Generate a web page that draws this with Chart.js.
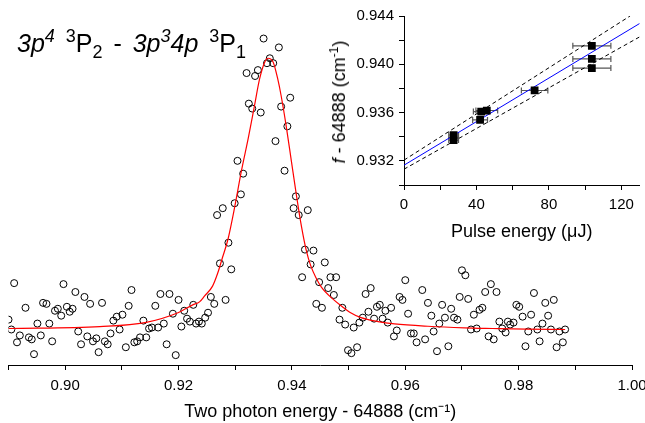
<!DOCTYPE html>
<html><head><meta charset="utf-8">
<script src="https://cdn.jsdelivr.net/npm/chart.js@4/dist/chart.umd.min.js"></script>
<style>
html,body{margin:0;padding:0;background:#fff;}
#wrap{position:relative;width:645px;height:423px;overflow:hidden;font-family:'Liberation Sans',Arial,sans-serif;color:#000;}
#main{position:absolute;left:0;top:0;}
#inset{position:absolute;left:330px;top:0;}
#title{position:absolute;left:17px;top:31px;font-size:25px;line-height:25px;white-space:nowrap;word-spacing:4px;}
.sp{font-size:18px;position:relative;top:-10px;}
.sb{font-size:18px;position:relative;top:6px;}
#ytitle{position:absolute;left:340px;top:102px;transform:translate(-50%,-50%) rotate(-90deg);font-size:18px;line-height:18px;white-space:nowrap;}
.sp2{font-size:12px;position:relative;top:-7px;}
</style></head>
<body><div id="wrap">
<canvas id="main" width="645" height="423"></canvas>
<canvas id="inset" width="315" height="250"></canvas>
<div id="title"><i>3p<span class="sp">4</span></i> <span class="sp">3</span>P<span class="sb">2</span> - <i>3p<span class="sp">3</span>4p</i> <span class="sp">3</span>P<span class="sb">1</span></div>
<div id="ytitle"><i>f</i> - 64888 (cm<span class="sp2">-1</span>)</div>
</div>
<script>
// ---- Main scan: two-photon energy - 64888 (cm^-1) vs signal (arb. units)
const scanEnergy = [0.8900,0.8905,0.8910,0.8915,0.8920,0.8930,0.8936,0.8941,0.8945,0.8951,0.8957,0.8961,0.8967,0.8972,0.8977,0.8982,0.8987,0.8993,0.8997,0.9003,0.9008,0.9013,0.9018,0.9023,0.9028,0.9034,0.9039,0.9044,0.9049,0.9055,0.9059,0.9065,0.9070,0.9075,0.9080,0.9085,0.9091,0.9096,0.9101,0.9107,0.9112,0.9117,0.9122,0.9127,0.9132,0.9138,0.9143,0.9148,0.9153,0.9159,0.9164,0.9168,0.9174,0.9179,0.9184,0.9190,0.9195,0.9200,0.9205,0.9210,0.9215,0.9220,0.9226,0.9231,0.9236,0.9241,0.9247,0.9252,0.9257,0.9263,0.9268,0.9273,0.9278,0.9283,0.9288,0.9293,0.9299,0.9304,0.9310,0.9314,0.9320,0.9324,0.9330,0.9335,0.9340,0.9345,0.9350,0.9356,0.9361,0.9367,0.9371,0.9377,0.9381,0.9387,0.9392,0.9397,0.9403,0.9407,0.9412,0.9418,0.9423,0.9428,0.9433,0.9438,0.9443,0.9448,0.9453,0.9458,0.9464,0.9468,0.9474,0.9478,0.9484,0.9489,0.9494,0.9499,0.9505,0.9509,0.9515,0.9519,0.9525,0.9530,0.9535,0.9539,0.9545,0.9550,0.9555,0.9560,0.9565,0.9569,0.9575,0.9580,0.9585,0.9590,0.9595,0.9600,0.9605,0.9610,0.9615,0.9620,0.9630,0.9635,0.9640,0.9646,0.9650,0.9656,0.9660,0.9665,0.9670,0.9676,0.9681,0.9686,0.9692,0.9696,0.9700,0.9706,0.9711,0.9716,0.9721,0.9726,0.9731,0.9736,0.9741,0.9747,0.9751,0.9756,0.9761,0.9766,0.9771,0.9777,0.9781,0.9785,0.9791,0.9796,0.9801,0.9807,0.9812,0.9817,0.9822,0.9827,0.9833,0.9837,0.9842,0.9847,0.9852,0.9857,0.9862,0.9867,0.9872,0.9878,0.9882];
const scanSignal = [0.46,0.36,0.83,0.23,0.30,0.58,0.28,0.26,0.11,0.42,0.30,0.63,0.62,0.42,0.24,0.55,0.57,0.50,0.82,0.59,0.54,0.57,0.74,0.34,0.21,0.69,0.29,0.62,0.24,0.27,0.13,0.63,0.24,0.21,0.32,0.45,0.49,0.36,0.51,0.18,0.60,0.76,0.23,0.24,0.28,0.45,0.28,0.37,0.38,0.60,0.38,0.72,0.42,0.21,0.72,0.52,0.10,0.66,0.39,0.55,0.47,0.44,0.61,0.42,0.44,0.42,0.48,0.53,0.69,0.62,1.52,1.03,1.59,0.66,1.24,0.97,1.64,2.07,1.73,1.94,2.96,2.65,2.60,2.93,2.99,2.56,3.31,3.06,3.11,3.06,2.27,3.22,2.62,1.97,2.42,2.71,1.59,1.71,1.52,0.89,1.17,1.57,1.02,1.16,0.62,0.84,0.58,1.04,0.78,0.89,0.71,0.89,0.46,0.58,0.41,0.15,0.12,0.38,0.18,0.43,0.48,0.72,0.54,0.78,0.47,0.59,0.61,0.47,0.55,0.43,0.58,0.29,0.35,0.69,0.66,0.86,0.52,0.32,0.32,0.23,0.76,0.26,0.63,0.50,0.34,0.14,0.42,0.61,0.48,0.19,0.57,0.48,0.46,0.69,0.96,0.91,0.67,0.36,0.51,0.37,0.56,0.58,0.74,0.29,0.82,0.26,0.74,0.44,0.37,0.33,0.44,0.41,0.43,0.61,0.59,0.49,0.19,0.34,0.51,0.73,0.36,0.24,0.42,0.63,0.50,0.36,0.66,0.18,0.34,0.23,0.36];
// fitted profile (red)
const fitEnergy = [0.8900,0.9061,0.9141,0.9199,0.9225,0.9237,0.9246,0.9260,0.9269,0.9277,0.9287,0.9299,0.9311,0.9323,0.9334,0.9343,0.9352,0.9358,0.9367,0.9375,0.9381,0.9390,0.9399,0.9408,0.9417,0.9425,0.9433,0.9442,0.9452,0.9472,0.9489,0.9502,0.9522,0.9552,0.9581,0.9640,0.9704,0.9754,0.9813,0.9882];
const fitSignal = [0.37,0.39,0.43,0.53,0.61,0.64,0.70,0.80,0.93,1.08,1.27,1.60,1.97,2.30,2.63,2.90,3.07,3.11,3.07,2.90,2.73,2.42,2.07,1.72,1.40,1.17,1.01,0.89,0.79,0.67,0.59,0.535,0.48,0.44,0.417,0.393,0.377,0.37,0.363,0.36];
const mainXTicks = [0.89,0.90,0.91,0.92,0.93,0.94,0.95,0.96,0.97,0.98,0.99,1.00];
const mainXLabels = [0.90,0.92,0.94,0.96,0.98,1.00];

// ---- Inset: line centre vs pulse energy
const pulseEnergy = [103.7,103.7,103.7,72.1,42.6,45.7,42.0,27.4,27.4];
const pulseErr    = [10.5,10.5,10.5,7.3,4.3,6.0,4.1,2.7,2.7];
const lineCentre  = [0.94153,0.94044,0.93969,0.93783,0.93608,0.93617,0.93539,0.93414,0.93372];
const fitLineX = [0,130.2];
const fitLineY = [0.93164,0.94339];
const upperX = [0,124.8];
const upperY = [0.93206,0.94400];
const lowerX = [0,130.2];
const lowerY = [0.93131,0.94228];
const insetXTicks = [0,20,40,60,80,100,120];
const insetXLabels = [0,40,80,120];
const insetYTicks = [0.930,0.932,0.934,0.936,0.938,0.940,0.942,0.944];
const insetYLabels = [0.932,0.936,0.940,0.944];

Chart.defaults.font.family = "'Liberation Sans', Arial, sans-serif";
Chart.defaults.color = '#000';

const has = (arr, v) => arr.some(a => Math.abs(a - v) < 1e-9);
const zip = (xs, ys) => xs.map((x, i) => ({x, y: ys[i]}));

new Chart(document.getElementById('main'), {
  type: 'scatter',
  data: { datasets: [
    { data: zip(fitEnergy, fitSignal), showLine: true, borderColor: '#ff0000', borderWidth: 1.2,
      pointRadius: 0, cubicInterpolationMode: 'monotone', order: 1 },
    { data: zip(scanEnergy, scanSignal), showLine: false, pointStyle: 'circle', pointRadius: 3.5,
      pointBorderWidth: 1, pointBorderColor: '#000', pointBackgroundColor: 'rgba(255,255,255,0)', order: 2 }
  ]},
  options: {
    responsive: false, animation: false,
    layout: { padding: { left: 8.5, right: 13, top: 0, bottom: 0 } },
    plugins: { legend: { display: false }, tooltip: { enabled: false } },
    scales: {
      x: { type: 'linear', min: 0.89, max: 1.00,
        afterBuildTicks: s => { s.ticks = mainXTicks.map(v => ({ value: v })); },
        afterFit: s => { s.height = 58; s.paddingRight = 13; s.paddingLeft = 0; },
        ticks: { callback: v => has(mainXLabels, v) ? v.toFixed(2) : '', font: { size: 15 }, padding: 7, maxRotation: 0, autoSkip: false },
        grid: { drawOnChartArea: false, tickLength: 5, color: '#000', tickColor: '#000' },
        border: { display: true, color: '#000', width: 1 },
        title: { display: true, text: 'Two photon energy - 64888 (cm\u207B\u00B9)', font: { size: 18 }, padding: { top: 0, bottom: 0 } }
      },
      y: { display: false, min: 0, max: 3.65 }
    }
  }
});

const errSets = pulseEnergy.map((e, i) => ({
  data: [{ x: e - pulseErr[i], y: lineCentre[i] }, { x: e + pulseErr[i], y: lineCentre[i] }],
  showLine: true, borderColor: '#555', borderWidth: 1.2,
  pointStyle: 'line', rotation: 90, pointRadius: 3, pointBorderColor: '#555', pointBorderWidth: 1.2, order: 4
}));

new Chart(document.getElementById('inset'), {
  type: 'scatter',
  data: { datasets: [
    ...errSets,
    { data: zip(upperX, upperY), showLine: true, borderColor: '#000', borderWidth: 1, borderDash: [4, 3], pointRadius: 0, order: 3 },
    { data: zip(lowerX, lowerY), showLine: true, borderColor: '#000', borderWidth: 1, borderDash: [4, 3], pointRadius: 0, order: 3 },
    { data: zip(fitLineX, fitLineY), showLine: true, borderColor: '#0000ff', borderWidth: 1, pointRadius: 0, order: 2 },
    { data: zip(pulseEnergy, lineCentre), showLine: false, pointStyle: 'rect', pointRadius: 5.5,
      pointBackgroundColor: '#000', pointBorderColor: '#000', pointBorderWidth: 0, order: 1 }
  ]},
  options: {
    responsive: false, animation: false,
    layout: { padding: { left: 0, right: 3, top: 16, bottom: 0 } },
    plugins: { legend: { display: false }, tooltip: { enabled: false } },
    scales: {
      x: { type: 'linear', min: 0, max: 130,
        afterBuildTicks: s => { s.ticks = insetXTicks.map(v => ({ value: v })); },
        afterFit: s => { s.height = 65; },
        ticks: { callback: v => has(insetXLabels, v) ? String(v) : '', font: { size: 15 }, padding: 6, maxRotation: 0, autoSkip: false },
        grid: { drawOnChartArea: false, tickLength: 5, color: '#000', tickColor: '#000' },
        border: { display: true, color: '#000', width: 1 },
        title: { display: true, text: 'Pulse energy (\u03BCJ)', font: { size: 18 }, padding: { top: 0, bottom: 7 } }
      },
      y: { type: 'linear', min: 0.930, max: 0.944,
        afterBuildTicks: s => { s.ticks = insetYTicks.map(v => ({ value: v })); },
        afterFit: s => { s.width = 74; },
        ticks: { callback: v => has(insetYLabels, v) ? v.toFixed(3) : '', font: { size: 15 }, padding: 5, autoSkip: false },
        grid: { drawOnChartArea: false, tickLength: 5, color: '#000', tickColor: '#000' },
        border: { display: true, color: '#000', width: 1 }
      }
    }
  }
});
</script>
</body></html>
